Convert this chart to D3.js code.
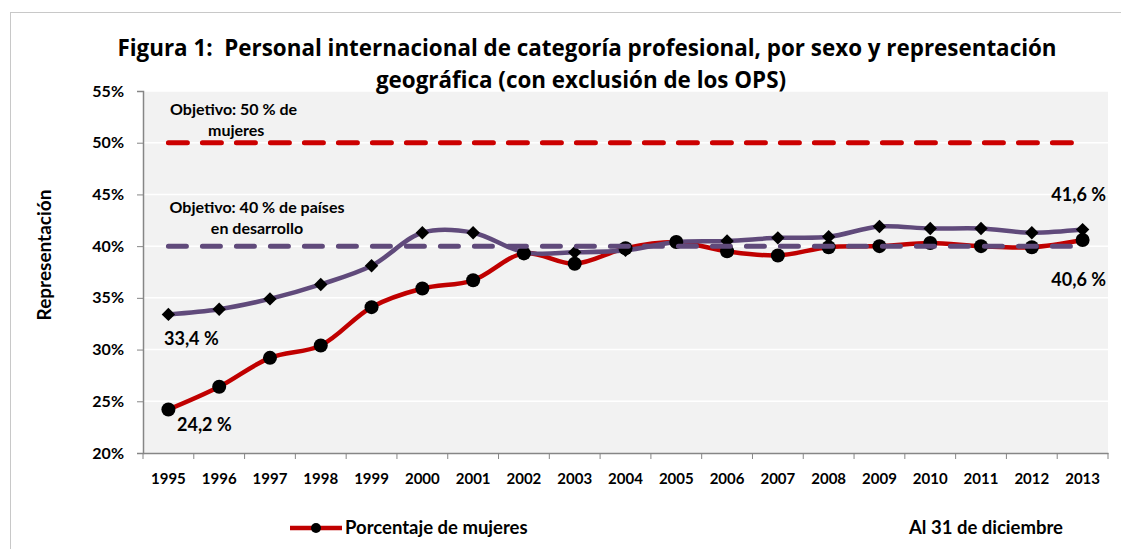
<!DOCTYPE html>
<html>
<head>
<meta charset="utf-8">
<script src="https://cdn.jsdelivr.net/npm/d3@7"></script>
<style>
  body { margin: 0; background: #fff; }
  text { font-family: Lato, "Open Sans", sans-serif; font-weight: bold; fill: #000; }
  .title { font-family: "Open Sans", sans-serif; white-space: pre; }
</style>
</head>
<body>
<div id="chart"></div>
<script>
// data
var years = [1995, 1996, 1997, 1998, 1999, 2000, 2001, 2002, 2003, 2004, 2005, 2006, 2007, 2008, 2009, 2010, 2011, 2012, 2013];
var mujeres = [24.2, 26.4, 29.2, 30.4, 34.1, 35.9, 36.7, 39.3, 38.3, 39.8, 40.4, 39.5, 39.1, 39.9, 40.0, 40.3, 40.0, 39.9, 40.6];
var paises = [33.4, 33.9, 34.9, 36.3, 38.1, 41.3, 41.3, 39.4, 39.4, 39.6, 40.4, 40.5, 40.8, 40.9, 41.9, 41.7, 41.7, 41.3, 41.6];
var objetivoMujeres = 50;
var objetivoPaises = 40;
var yTicks = [20, 25, 30, 35, 40, 45, 50, 55];

var width = 1121, height = 549;
var plotLeft = 143, plotRight = 1108, plotTop = 91, plotBottom = 453;

var svg = d3.select("#chart").append("svg")
  .attr("width", width)
  .attr("height", height);

// outer frame
svg.append("line").attr("x1", 10).attr("x2", width).attr("y1", 12.5).attr("y2", 12.5)
  .attr("stroke", "#c8c8c8").attr("stroke-width", 1);
svg.append("line").attr("x1", 10.5).attr("x2", 10.5).attr("y1", 12).attr("y2", height)
  .attr("stroke", "#c8c8c8").attr("stroke-width", 1);

var xBand = d3.scaleBand().domain(years).range([plotLeft, plotRight]);
var x = d3.scalePoint().domain(years).range([plotLeft, plotRight]).padding(0.5);
var y = d3.scaleLinear().domain([20, 55]).range([plotBottom, plotTop]);

// plot background
svg.append("rect")
  .attr("x", plotLeft).attr("y", plotTop)
  .attr("width", plotRight - plotLeft).attr("height", plotBottom - plotTop)
  .attr("fill", "#f2f2f2");

// gridlines
svg.append("g")
  .selectAll("line")
  .data(yTicks.slice(1))
  .enter().append("line")
  .attr("x1", plotLeft).attr("x2", plotRight)
  .attr("y1", function(d){ return y(d); })
  .attr("y2", function(d){ return y(d); })
  .attr("stroke", "#fff").attr("stroke-width", 1.5);

// y axis
var yAxis = svg.append("g")
  .attr("transform", "translate(" + plotLeft + ",0)")
  .call(d3.axisLeft(y).tickValues(yTicks).tickSize(6).tickPadding(13)
    .tickFormat(function(d){ return d + "%"; }));
yAxis.select(".domain").attr("stroke", "#868686").attr("stroke-width", 1.5);
yAxis.selectAll(".tick line").attr("stroke", "#868686");
yAxis.selectAll("text").style("font-size", "16px").attr("font-family", null);

// x axis
var xAxis = svg.append("g")
  .attr("transform", "translate(0," + plotBottom + ")")
  .call(d3.axisBottom(xBand).tickSize(0).tickPadding(20));
xAxis.select(".domain").attr("stroke", "#868686").attr("stroke-width", 1.5);
xAxis.selectAll("text").style("font-size", "15px").attr("font-family", null);
xAxis.selectAll(".bnd")
  .data(years.concat(["end"]))
  .enter().append("line")
  .attr("class", "bnd")
  .attr("x1", function(d){ return d === "end" ? plotRight : xBand(d); })
  .attr("x2", function(d){ return d === "end" ? plotRight : xBand(d); })
  .attr("y1", 0).attr("y2", 6)
  .attr("stroke", "#868686");

// y axis title
svg.append("text")
  .attr("transform", "translate(51,255) rotate(-90)")
  .attr("text-anchor", "middle")
  .style("font-size", "19px")
  .text("Representación");

// target line for women
svg.append("line")
  .attr("x1", x(years[0])).attr("x2", x(years[years.length - 1]))
  .attr("y1", y(objetivoMujeres)).attr("y2", y(objetivoMujeres))
  .attr("stroke", "#cc0000").attr("stroke-width", 5)
  .attr("stroke-linecap", "round")
  .attr("stroke-dasharray", "19,15");

var line = d3.line()
  .x(function(d, i){ return x(years[i]); })
  .y(function(d){ return y(d); })
  .curve(d3.curveCatmullRom.alpha(0.5));

svg.append("path")
  .datum(mujeres)
  .attr("d", line)
  .attr("fill", "none")
  .attr("stroke", "#c00000")
  .attr("stroke-width", 4.5);

svg.append("path")
  .datum(paises)
  .attr("d", line)
  .attr("fill", "none")
  .attr("stroke", "#604a7b")
  .attr("stroke-width", 4.5);

// markers
svg.append("g").selectAll("circle")
  .data(mujeres)
  .enter().append("circle")
  .attr("cx", function(d, i){ return x(years[i]); })
  .attr("cy", function(d){ return y(d); })
  .attr("r", 7)
  .attr("fill", "#000");

var diamond = d3.symbol().type(d3.symbolDiamond2).size(115);
svg.append("g").selectAll("path")
  .data(paises)
  .enter().append("path")
  .attr("d", diamond)
  .attr("transform", function(d, i){ return "translate(" + x(years[i]) + "," + y(d) + ")"; })
  .attr("fill", "#000");

// target line for developing countries (drawn on top)
svg.append("line")
  .attr("x1", x(years[0])).attr("x2", x(years[years.length - 1]))
  .attr("y1", y(objetivoPaises)).attr("y2", y(objetivoPaises))
  .attr("stroke", "#604a7b").attr("stroke-width", 5)
  .attr("stroke-linecap", "round")
  .attr("stroke-dasharray", "18,16");

// title
var title = svg.append("text")
  .attr("class", "title")
  .attr("text-anchor", "middle")
  .style("font-size", "22.4px");
title.append("tspan").attr("x", 587).attr("y", 56)
  .text("Figura 1:  Personal internacional de categoría profesional, por sexo y representación");
title.append("tspan").attr("x", 581).attr("y", 88)
  .text("geográfica (con exclusión de los OPS)");

// annotations
function note(txt, tx, ty, anchor, size){
  svg.append("text")
    .attr("x", tx).attr("y", ty)
    .attr("text-anchor", anchor || "start")
    .style("font-size", (size || 16) + "px")
    .text(txt);
}
note("Objetivo: 50 % de", 170, 115);
note("mujeres", 208, 136);
note("Objetivo: 40 % de países", 257, 213, "middle");
note("en desarrollo", 257, 234, "middle");
note("33,4 %", 164, 345, "start", 18);
note("24,2 %", 177, 431, "start", 18);
note("41,6 %", 1106, 201, "end", 18);
note("40,6 %", 1106, 286, "end", 18);

// legend
svg.append("line")
  .attr("x1", 290).attr("x2", 342).attr("y1", 528).attr("y2", 528)
  .attr("stroke", "#c00000").attr("stroke-width", 4.5);
svg.append("circle").attr("cx", 316).attr("cy", 528).attr("r", 5).attr("fill", "#000");
note("Porcentaje de mujeres", 345, 534, "start", 18.5);
note("Al 31 de diciembre", 909, 534, "start", 18.5);
</script>
</body>
</html>
